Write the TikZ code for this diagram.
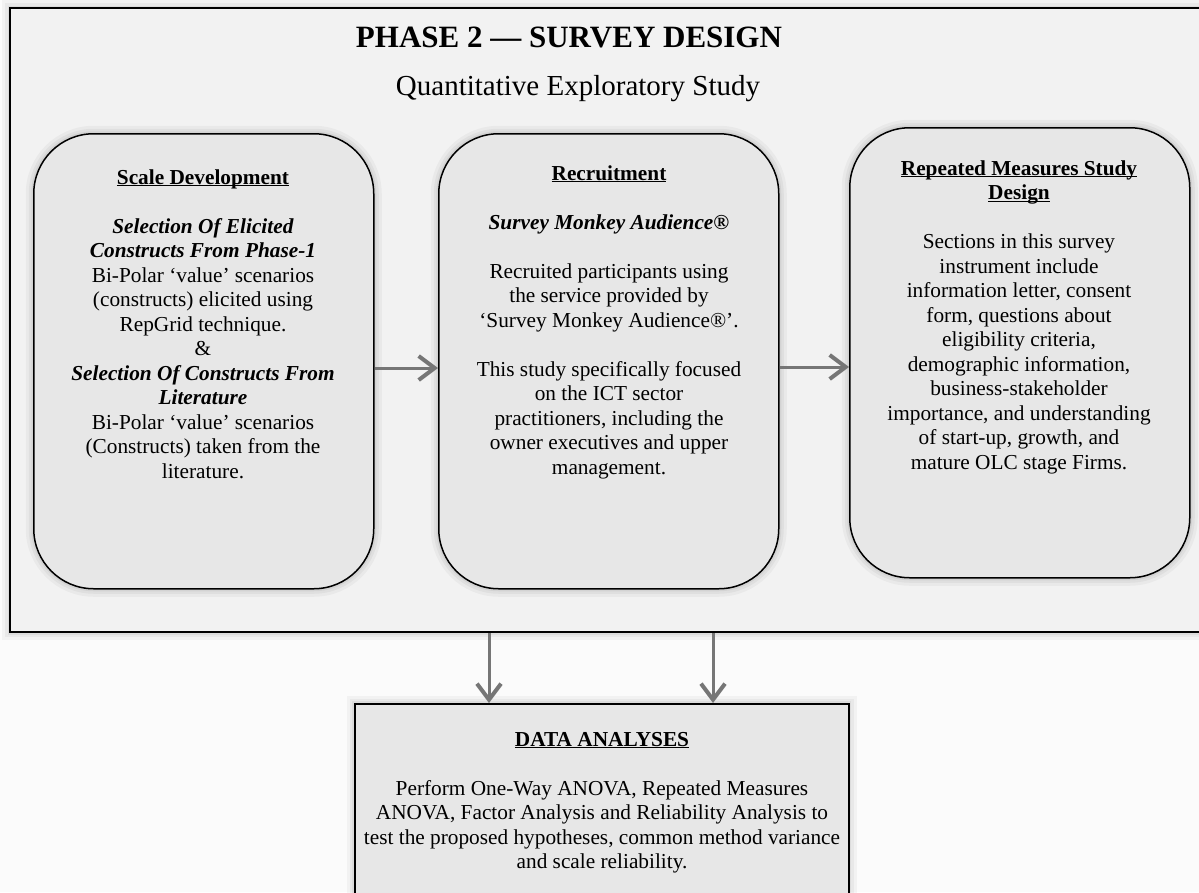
\documentclass[tikz,border=0pt]{standalone}
\usepackage{fontspec}
\setmainfont{Liberation Serif}
\usetikzlibrary{arrows.meta}

\definecolor{pagebg}{HTML}{FBFBFB}
\definecolor{framebg}{HTML}{F2F2F2}
\definecolor{boxbg}{HTML}{E7E7E7}
\definecolor{arrowgray}{HTML}{767676}

% underlined heading whose rule ignores descenders
\newcommand\ulhead[1]{\underline{\raisebox{0pt}[\height][0pt]{#1}}}

\tikzset{
  softshadow/.style={
      preaction={draw=black, draw opacity=0.035, line width=16pt},
      preaction={draw=black, draw opacity=0.04, line width=10pt},
      preaction={draw=black, draw opacity=0.05, line width=5pt}},
  framebox/.style={draw=black, line width=2pt, fill=framebg, inner sep=0pt, softshadow},
  roundbox/.style={draw=black, line width=1.5pt, fill=boxbg, rounded corners=60pt,
      inner sep=0pt, softshadow},
  databox/.style={draw=black, line width=1.8pt, fill=boxbg, inner sep=0pt, softshadow},
  bodytext/.style={align=center, inner sep=0pt, anchor=north,
      font=\fontsize{21.3}{24.5}\selectfont},
  flow/.style={draw=arrowgray, line width=3pt,
      -{Straight Barb[length=16pt,width=24pt,line width=4pt]}}
}

\begin{document}
\begin{tikzpicture}[x=1pt,y=-1pt]
  \useasboundingbox (0,0) rectangle (1199,892);
  \clip (0,0) rectangle (1199,892);
  \fill[pagebg] (0,0) rectangle (1199,892);

  % outer phase frame
  \node[framebox, minimum width=1203pt, minimum height=624pt, anchor=north west]
    (frame) at (9,7) {};

  \node[font=\fontsize{31}{36}\selectfont\bfseries, anchor=base, inner sep=0pt]
    (title) at (569,47) {PHASE 2 — SURVEY DESIGN};
  \node[font=\fontsize{29}{34}\selectfont, anchor=base, inner sep=0pt]
    (subtitle) at (578,95) {Quantitative Exploratory Study};

  % three stage boxes
  \node[roundbox, minimum width=340pt, minimum height=455pt, anchor=north west]
    (sd) at (33,133) {};
  \node[roundbox, minimum width=340pt, minimum height=455pt, anchor=north west]
    (rc) at (438,133) {};
  \node[roundbox, minimum width=340pt, minimum height=450pt, anchor=north west]
    (rm) at (849,127) {};

  \node[bodytext] (sdtext) at (203,167) {%
    \rule{0pt}{17pt}\ulhead{\textbf{Scale Development}}\\[24.5pt]
    \textbf{\textit{Selection Of Elicited}}\\
    \textbf{\textit{Constructs From Phase-1}}\\
    Bi-Polar ‘value’ scenarios\\
    (constructs) elicited using\\
    RepGrid technique.\\
    \&\\
    \textbf{\textit{Selection Of Constructs From}}\\
    \textbf{\textit{Literature}}\\
    Bi-Polar ‘value’ scenarios\\
    (Constructs) taken from the\\
    literature.};

  \node[bodytext] (rctext) at (609,163) {%
    \rule{0pt}{17pt}\ulhead{\textbf{Recruitment}}\\[24.5pt]
    \textbf{\textit{Survey Monkey Audience®}}\\[24.5pt]
    Recruited participants using\\
    the service provided by\\
    ‘Survey Monkey Audience®’.\\[24.5pt]
    This study specifically focused\\
    on the ICT sector\\
    practitioners, including the\\
    owner executives and upper\\
    management.};

  \node[bodytext] (rmtext) at (1019,158) {%
    \rule{0pt}{17pt}\ulhead{\textbf{Repeated Measures Study}}\\
    \ulhead{\textbf{Design}}\\[24.5pt]
    Sections in this survey\\
    instrument include\\
    information letter, consent\\
    form, questions about\\
    eligibility criteria,\\
    demographic information,\\
    business-stakeholder\\
    importance, and understanding\\
    of start-up, growth, and\\
    mature OLC stage Firms.};

  % analysis box below the frame
  \node[databox, minimum width=494pt, minimum height=230pt, anchor=north west]
    (da) at (354,703) {};
  \node[bodytext] (datext) at (602,729) {%
    \rule{0pt}{17pt}\ulhead{\textbf{DATA ANALYSES}}\\[24.5pt]
    Perform One-Way ANOVA, Repeated Measures\\
    ANOVA, Factor Analysis and Reliability Analysis to\\
    test the proposed hypotheses, common method variance\\
    and scale reliability.};

  % connectors
  \coordinate (row1) at (0,368);
  \coordinate (row2) at (0,367);
  \coordinate (col1) at (489,0);
  \coordinate (col2) at (713,0);
  \draw[flow] (sd.east |- row1) -- (rc.west |- row1);
  \draw[flow] (rc.east |- row2) -- (rm.west |- row2);
  \draw[flow] (frame.south -| col1) -- (da.north -| col1);
  \draw[flow] (frame.south -| col2) -- (da.north -| col2);
\end{tikzpicture}
\end{document}
